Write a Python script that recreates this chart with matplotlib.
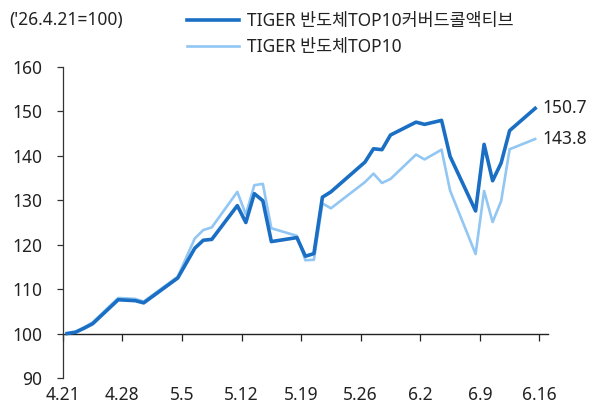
import matplotlib
matplotlib.use("Agg")
import matplotlib.pyplot as plt
import pandas as pd
import numpy as np

plt.rcParams['font.family'] = ['Noto Sans', 'Noto Sans CJK KR', 'DejaVu Sans']

# trading days (2026), index '26.4.21 = 100
dates = ["4.21", "4.22", "4.23", "4.24", "4.27", "4.28", "4.29", "4.30",
         "5.4", "5.6", "5.7", "5.8", "5.11", "5.12", "5.13", "5.14", "5.15",
         "5.18", "5.19", "5.20", "5.21", "5.22", "5.26", "5.27", "5.28", "5.29",
         "6.1", "6.2", "6.4", "6.5", "6.8", "6.9", "6.10", "6.11", "6.12", "6.15"]
covered_call = [100.0, 100.3, 101.2, 102.2, 107.6, 107.5, 107.4, 106.9,
                112.5, 119.2, 121.0, 121.2, 128.8, 125.0, 131.5, 129.9, 120.7,
                121.6, 117.4, 118.0, 130.7, 131.9, 138.6, 141.6, 141.4, 144.7,
                147.6, 147.1, 148.0, 139.9, 127.6, 142.6, 134.4, 138.4, 145.7, 150.7]
top10 = [100.0, 100.4, 101.4, 102.5, 108.0, 107.9, 107.8, 107.2,
         112.8, 121.4, 123.3, 123.9, 131.9, 126.8, 133.4, 133.7, 123.7,
         122.0, 116.5, 116.6, 129.3, 128.2, 134.1, 136.0, 133.9, 134.8,
         140.3, 139.2, 141.4, 132.2, 117.9, 132.1, 125.1, 129.8, 141.5, 143.8]
tick_labels = ["4.21", "4.28", "5.5", "5.12", "5.19", "5.26", "6.2", "6.9", "6.16"]
series_names = ["TIGER 반도체TOP10커버드콜액티브", "TIGER 반도체TOP10"]

x = pd.to_datetime(["2026." + d for d in dates], format="%Y.%m.%d") + pd.Timedelta(hours=12)
ticks = pd.to_datetime(["2026." + t for t in tick_labels], format="%Y.%m.%d")

fs = 12.5
fig = plt.figure(figsize=(5.93, 4.09), dpi=100)
ax = fig.add_axes([0.106, 0.076, 0.818, 0.760])

dark = "#1a6fc4"
light = "#92c6f3"
ax.plot(x, top10, color=light, lw=1.9, label=series_names[1], zorder=3)
ax.plot(x, covered_call, color=dark, lw=2.6, label=series_names[0], zorder=4)

ax.set_ylim(90, 160)
ax.set_yticks(np.arange(90, 161, 10))
ax.set_xlim(ticks[0], ticks[-1] + pd.Timedelta(days=1))
ax.set_xticks(ticks)
ax.set_xticklabels(tick_labels)

for s in ["top", "right", "bottom"]:
    ax.spines[s].set_visible(False)
ax.spines["left"].set_color("#333333")
ax.spines["left"].set_linewidth(0.9)
ax.tick_params(axis="y", length=4, width=0.9, color="#333333", labelsize=fs, labelcolor="#222222", pad=11)
ax.tick_params(axis="x", length=0, labelsize=fs, labelcolor="#222222", pad=6)

# baseline at 100 with its own tick marks
sec = ax.secondary_xaxis(1 / 7)
sec.set_xticks(ticks)
sec.tick_params(axis="x", length=5, width=0.9, color="#222222", labelbottom=False)
sec.spines["bottom"].set_color("#222222")
sec.spines["bottom"].set_linewidth(1.0)

# end labels
ax.annotate(f"{covered_call[-1]:.1f}", (x[-1], covered_call[-1]), xytext=(5, 0),
            textcoords="offset points", va="center", ha="left", fontsize=fs, color="#222222")
ax.annotate(f"{top10[-1]:.1f}", (x[-1], top10[-1]), xytext=(5, 0),
            textcoords="offset points", va="center", ha="left", fontsize=fs, color="#222222")

fig.text(0.015, 0.951, "('26.4.21=100)", fontsize=fs, color="#222222", va="center")

h, l = ax.get_legend_handles_labels()
ax.legend(h[::-1], l[::-1], loc="center left", bbox_to_anchor=(0.315, 0.917),
          bbox_transform=fig.transFigure, frameon=False, fontsize=fs,
          handlelength=3.0, handletextpad=0.45, labelspacing=0.48, borderpad=0,
          borderaxespad=0, labelcolor="#222222")

fig.savefig("out.png", dpi=100)
